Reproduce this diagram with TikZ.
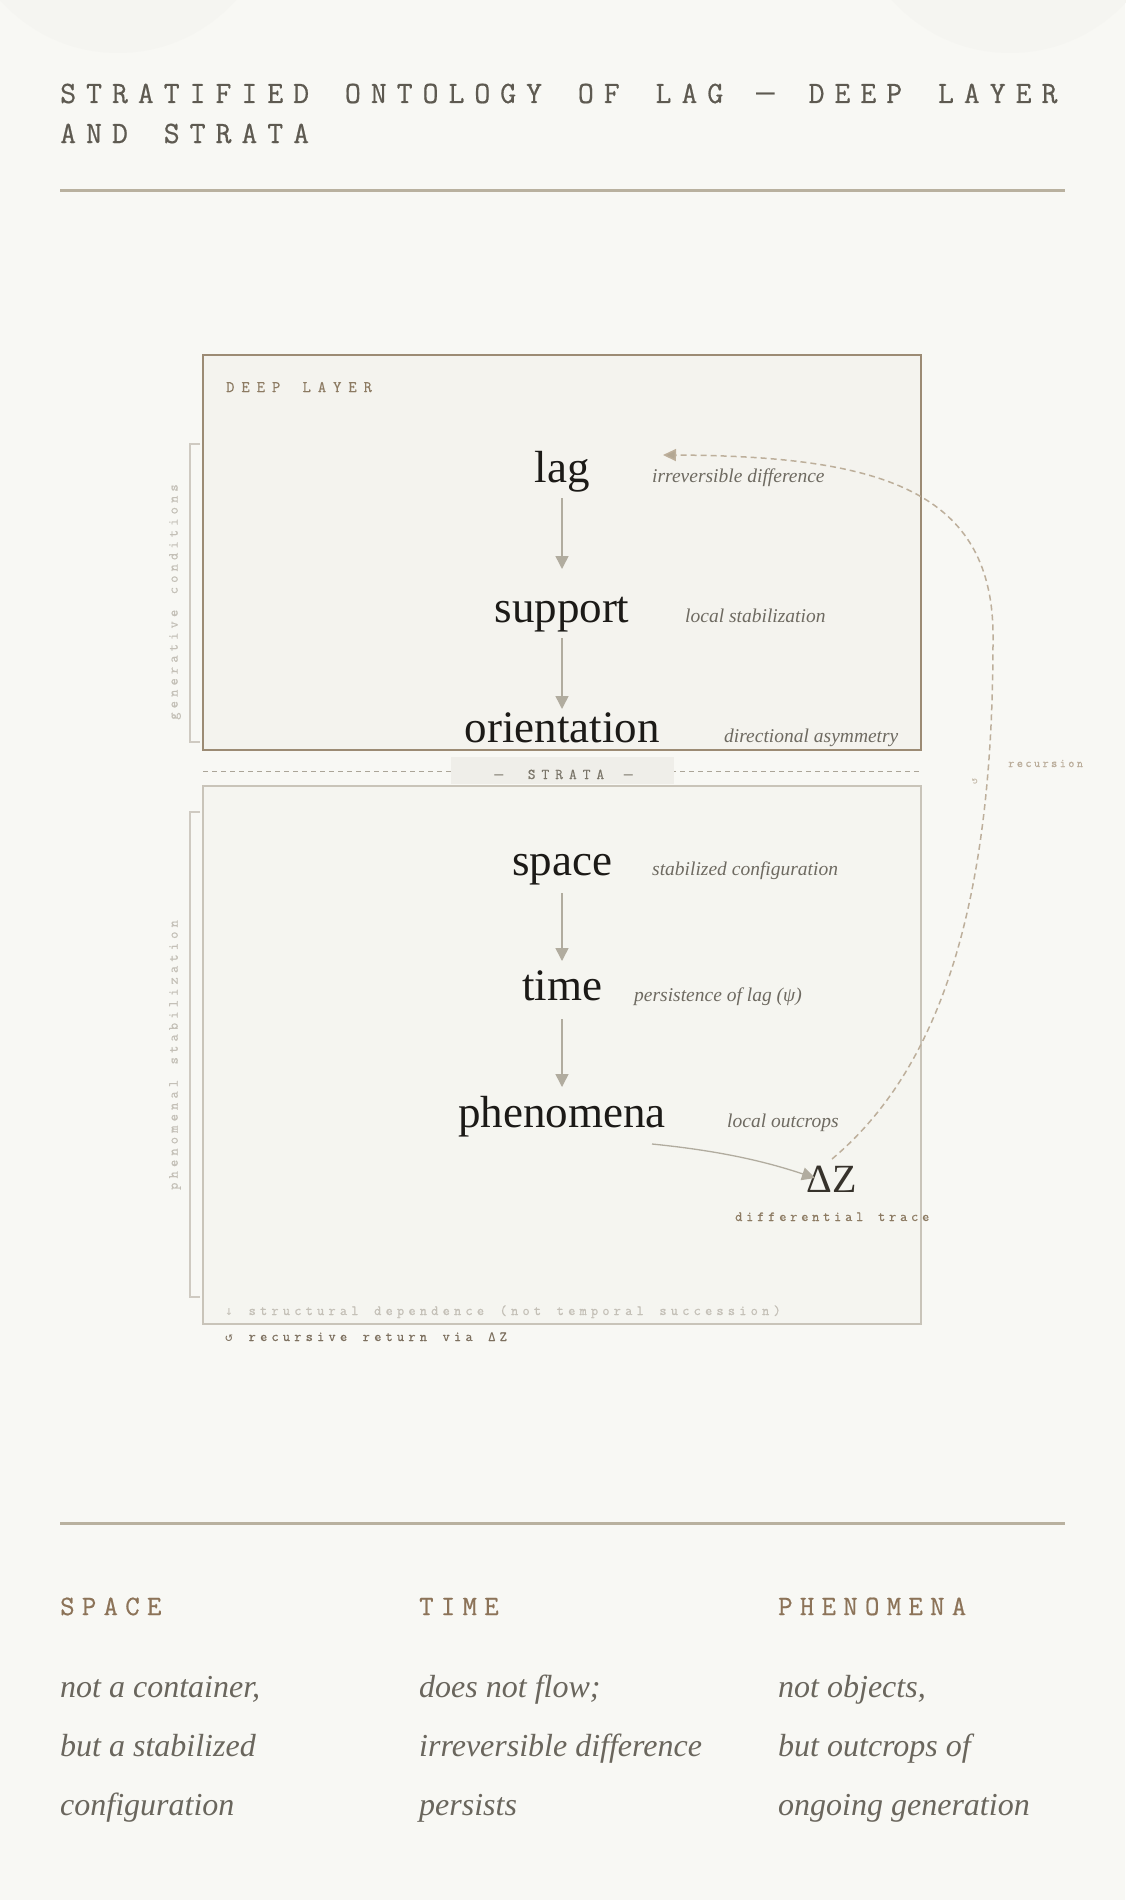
\documentclass[tikz,border=0pt]{standalone}
\usepackage{fontspec}
\usetikzlibrary{arrows.meta,calc}
\setmainfont{Liberation Serif}
\newfontfamily\mono{Latin Modern Mono}
\newfontfamily\symmono{DejaVu Sans Mono}
\definecolor{bg}{HTML}{F8F8F4}
\definecolor{faint}{HTML}{F5F5F1}
\definecolor{ink}{HTML}{1C1A17}
\definecolor{glosscol}{HTML}{6E6A61}
\definecolor{arrowcol}{HTML}{B1AC9F}
\definecolor{monobrown}{HTML}{8C7A62}
\definecolor{lightgrey}{HTML}{C4C0B7}
\definecolor{titlecol}{HTML}{5E5A51}
\definecolor{rulecol}{HTML}{B9B19F}
\definecolor{deepfill}{HTML}{F4F3EE}
\definecolor{deepline}{HTML}{9C8B74}
\definecolor{lowfill}{HTML}{F5F5F0}
\definecolor{lowline}{HTML}{C9C4B9}
\definecolor{stratafill}{HTML}{EFEEE9}
\definecolor{stratatext}{HTML}{7A7569}
\definecolor{dashcol}{HTML}{BDAF9B}
\definecolor{tipcol}{HTML}{B3A793}
\definecolor{recurscol}{HTML}{BBAE9B}
\definecolor{bracketcol}{HTML}{CFCAC1}
\definecolor{colhead}{HTML}{8C7358}
\definecolor{coltext}{HTML}{6A665D}
\definecolor{dzcol}{HTML}{36322B}
\definecolor{footdark}{HTML}{7D705F}
\definecolor{sepcol}{HTML}{ABA598}
% tracked mono font: size (pt), letterspace (integer percent of size)
\newcommand\trkf[2]{\mono\fontsize{#1}{#1}\selectfont\addfontfeature{LetterSpace=#2,FakeBold=0.6}\spaceskip=\dimexpr\fontdimen2\font+#1pt*#2/100\relax}
% wide em dash inside tracked mono text: size, extra kern
\newcommand\wdash[2]{{\symmono\fontsize{#1}{#1}\selectfont —}\kern#2pt\relax}
\tikzset{
  word/.style={font=\fontsize{45}{45}\selectfont, text=ink, inner sep=0pt, anchor=base},
  gloss/.style={font=\fontsize{19.5}{20}\selectfont\itshape, text=glosscol, inner sep=0pt, anchor=base west},
  arr/.style={draw=arrowcol, line width=1.5pt, -{Triangle[length=13pt,width=13pt,fill=arrowcol]}},
  titlef/.style={font=\trkf{31}{32}, text=titlecol, inner sep=0pt, anchor=base west},
  rule/.style={draw=rulecol, line width=3pt},
  smallmono/.style={font=\trkf{14}{30}, inner sep=0pt},
  colhd/.style={font=\trkf{28}{26}, text=colhead, inner sep=0pt, anchor=base west},
  coltx/.style={font=\fontsize{32}{32}\selectfont\itshape, text=coltext, inner sep=0pt, anchor=base west},
  brk/.style={draw=bracketcol, line width=1.5pt},
}
\begin{document}
\begin{tikzpicture}[x=1pt,y=-1pt]
\useasboundingbox (0,0) rectangle (1125,1900);
\fill[bg] (0,0) rectangle (1125,1900);
\fill[faint] (118,-105) circle (158);
\fill[faint] (1010,-105) circle (158);

% title
\node[titlef] (t1) at (60,103) {STRATIFIED ONTOLOGY OF LAG \kern-3pt\wdash{31}{-2} DEEP LAYER};
\node[titlef] (t2) at (60,143) {AND STRATA};
\draw[rule] (60,190) -- (1065,190);

% deep layer box
\filldraw[fill=deepfill, draw=deepline, line width=1.6pt] (203,355) rectangle (921,750);
\node[font=\trkf{16}{44}, text=monobrown, inner sep=0pt, anchor=base west] (deeplbl) at (226,392) {DEEP LAYER};
\draw[brk] (200,444) -- (190,444) -- (190,742) -- (200,742);
\node[smallmono, text=lightgrey, rotate=90] (gen) at (175,602) {generative conditions};

% strata separator
\draw[draw=sepcol, line width=1pt, dash pattern=on 5pt off 4pt] (203,771) -- (921,771);
\fill[stratafill] (451,757) rectangle (674,784);
\node[font=\trkf{15}{40}, text=stratatext, inner sep=0pt, anchor=base] (strata) at (566,779) {\wdash{15}{4.8} STRATA \wdash{15}{4.8}};

% lower box
\filldraw[fill=lowfill, draw=lowline, line width=1.4pt] (203,786) rectangle (921,1324);
\draw[brk] (200,812) -- (190,812) -- (190,1297) -- (200,1297);
\node[smallmono, text=lightgrey, rotate=90] (phs) at (175,1055) {phenomenal stabilization};

% deep layer words
\node[word] (lag) at (562,482) {lag};
\node[word] (support) at (562,622) {support};
\node[word] (orient) at (562,742) {orientation};
\node[gloss] (glag) at (652,482) {irreversible difference};
\node[gloss] (gsup) at (685,622) {local stabilization};
\node[gloss] (gori) at (724,742) {directional asymmetry};

% strata words
\node[word] (space) at (562,875) {space};
\node[word] (time) at (562,1000) {time};
\node[word] (phen) at (562,1127) {phenomena};
\node[gloss] (gspa) at (652,875) {stabilized configuration};
\node[gloss] (gtim) at (634,1001) {persistence of lag (ψ)};
\node[gloss] (gphe) at (727,1127) {local outcrops};

\node[font=\fontsize{40}{40}\selectfont, text=dzcol, inner sep=0pt, anchor=base] (dz) at (832,1192) {ΔZ};
\node[font=\trkf{14}{27}, text=monobrown, inner sep=0pt, anchor=base west] (dtrace) at (735,1221) {differential trace};

% vertical arrows
\draw[arr] ($(lag.base)+(0,16)$) -- ($(support.base)+(0,-53)$);
\draw[arr] ($(support.base)+(0,16)$) -- ($(orient.base)+(0,-33)$);
\draw[arr] ($(space.base)+(0,18)$) -- ($(time.base)+(0,-39)$);
\draw[arr] ($(time.base)+(0,19)$) -- ($(phen.base)+(0,-40)$);

% phenomena -> delta z
\draw[arr, line width=1.3pt] ($(phen.base)+(90,17)$) .. controls ($(phen.base)+(160,24)$) and ($(dz.base)+(-65,-30)$) .. ($(dz.base)+(-17,-14)$);

% recursion
\draw[draw=dashcol, line width=1.5pt, dash pattern=on 6pt off 4pt, -{Triangle[length=13pt,width=12pt,fill=tipcol]}]
  ($(dz.base)+(0,-33)$) .. controls (950,1060) and (993,880) .. (993,640)
  .. controls (995,490) and (880,456) .. ($(lag.base)+(101,-27)$);
\node[font=\trkf{12}{20}, text=recurscol, inner sep=0pt, anchor=base west] (rec) at (1008,767) {recursion};
\node[font=\symmono\fontsize{10}{10}\selectfont, text=recurscol, inner sep=0pt, rotate=90] (recsym) at (975,781) {↺};

% footer notes
\node[smallmono, text=lightgrey, anchor=base west] (f1) at (225,1315) {{\symmono\fontsize{13}{13}\selectfont ↓} structural dependence (not temporal succession)};
\node[smallmono, text=footdark, anchor=base west] (f2) at (225,1341) {{\symmono\fontsize{13}{13}\selectfont ↺} recursive return via ΔZ};

% bottom rule and columns
\draw[rule] (60,1523) -- (1065,1523);
\node[colhd] (h1) at (60,1615) {SPACE};
\node[colhd] (h2) at (419,1615) {TIME};
\node[colhd] (h3) at (778,1615) {PHENOMENA};

\node[coltx] (a1) at (60,1697) {not a container,};
\node[coltx] (a2) at (60,1756) {but a stabilized};
\node[coltx] (a3) at (60,1815) {configuration};
\node[coltx] (b1) at (419,1697) {does not flow;};
\node[coltx] (b2) at (419,1756) {irreversible difference};
\node[coltx] (b3) at (419,1815) {persists};
\node[coltx] (c1) at (778,1697) {not objects,};
\node[coltx] (c2) at (778,1756) {but outcrops of};
\node[coltx] (c3) at (778,1815) {ongoing generation};
\end{tikzpicture}
\end{document}
